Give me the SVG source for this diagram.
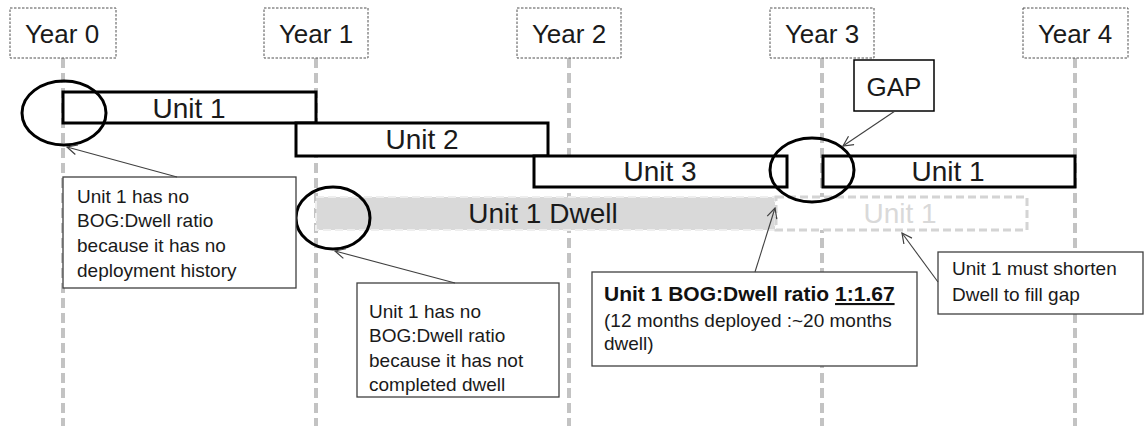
<svg xmlns="http://www.w3.org/2000/svg" width="1144" height="426" viewBox="0 0 1144 426">
<defs>
<marker id="arr" viewBox="0 0 12 12" refX="11" refY="6" markerWidth="12" markerHeight="12" markerUnits="userSpaceOnUse" orient="auto">
<path d="M1,1 L11,6 L1,11" fill="none" stroke="#404040" stroke-width="1.2"/>
</marker>
<style>
.grid{stroke:#c3c3c3;stroke-width:4;stroke-dasharray:10,5;fill:none}
.year{fill:#fff;stroke:#505050;stroke-width:1;stroke-dasharray:2.5,1.5}
.yt{font-family:"Liberation Sans",Arial,sans-serif;font-size:26px;fill:#1a1a1a;text-anchor:middle}
.bar{fill:#fff;stroke:#000;stroke-width:3}
.bt{font-family:"Liberation Sans",Arial,sans-serif;font-size:28px;fill:#1a1a1a;text-anchor:middle}
.ring{fill:none;stroke:#000;stroke-width:3}
.call{fill:#fff;stroke:#404040;stroke-width:1.3}
.ct{font-family:"Liberation Sans",Arial,sans-serif;font-size:19px;fill:#1a1a1a}
.cb{font-family:"Liberation Sans",Arial,sans-serif;font-size:21px;font-weight:bold;fill:#111}
.conn{stroke:#404040;stroke-width:1.1;fill:none;marker-end:url(#arr)}
</style>
</defs>
<rect width="1144" height="426" fill="#fff"/>
<g id="gridlines">
<line class="grid" x1="63" y1="58" x2="63" y2="426"/>
<line class="grid" x1="316" y1="58" x2="316" y2="426"/>
<line class="grid" x1="569" y1="58" x2="569" y2="426"/>
<line class="grid" x1="822" y1="58" x2="822" y2="426"/>
<line class="grid" x1="1075" y1="58" x2="1075" y2="426"/>
</g>
<g id="year0"><rect class="year" x="10" y="8" width="106" height="50"/><text class="yt" x="62" y="43">Year 0</text></g>
<g id="year1"><rect class="year" x="264" y="8" width="104" height="50"/><text class="yt" x="316" y="43">Year 1</text></g>
<g id="year2"><rect class="year" x="517" y="8" width="104" height="50"/><text class="yt" x="569" y="43">Year 2</text></g>
<g id="year3"><rect class="year" x="770" y="8" width="104" height="50"/><text class="yt" x="822" y="43">Year 3</text></g>
<g id="year4"><rect class="year" x="1023" y="8" width="105" height="50"/><text class="yt" x="1075" y="43">Year 4</text></g>
<g id="unit1a"><rect class="bar" x="63" y="92" width="253" height="31"/><text class="bt" x="189" y="118">Unit 1</text></g>
<g id="unit2"><rect class="bar" x="296" y="123" width="252" height="33"/><text class="bt" x="422" y="149">Unit 2</text></g>
<g id="unit3"><rect class="bar" x="534" y="156" width="253" height="31"/><text class="bt" x="660" y="181">Unit 3</text></g>
<g id="unit1b"><rect class="bar" x="823" y="156" width="252" height="31"/><text class="bt" x="948" y="181">Unit 1</text></g>
<g id="dwell"><rect x="316" y="197" width="459" height="33" fill="#d9d9d9" stroke="#eeeeee" stroke-width="2" stroke-dasharray="8,4"/><text class="bt" x="543" y="223">Unit 1 Dwell</text></g>
<g id="ghost"><rect x="776" y="197" width="251" height="33" fill="#fff" stroke="#d4d4d4" stroke-width="3" stroke-dasharray="8,4"/><text class="bt" x="900" y="223" style="fill:#d9d9d9">Unit 1</text></g>
<g id="ring1"><ellipse class="ring" cx="64" cy="113" rx="42" ry="32"/></g>
<g id="ring2"><ellipse class="ring" cx="333" cy="218" rx="37" ry="31"/></g>
<g id="ring3"><ellipse class="ring" cx="812" cy="170" rx="42" ry="32"/></g>
<g id="gap"><rect x="854" y="60" width="80" height="51" fill="#fff" stroke="#000" stroke-width="1.5"/><text class="yt" x="894" y="96">GAP</text></g>
<g id="note1"><rect class="call" x="63" y="177" width="233" height="111"/>
<text class="ct" x="77" y="203">Unit 1 has no</text>
<text class="ct" x="77" y="227">BOG:Dwell ratio</text>
<text class="ct" x="77" y="252">because it has no</text>
<text class="ct" x="77" y="277">deployment history</text></g>
<g id="note2"><rect class="call" x="357" y="283" width="202" height="114"/>
<text class="ct" x="369" y="318">Unit 1 has no</text>
<text class="ct" x="369" y="342">BOG:Dwell ratio</text>
<text class="ct" x="369" y="367">because it has not</text>
<text class="ct" x="369" y="391">completed dwell</text></g>
<g id="note3"><rect class="call" x="592" y="272" width="325" height="94"/>
<text class="cb" x="604" y="301">Unit 1 BOG:Dwell ratio <tspan text-decoration="underline">1:1.67</tspan></text>
<text class="ct" x="604" y="327">(12 months deployed :~20 months</text>
<text class="ct" x="604" y="350">dwell)</text></g>
<g id="note4"><rect class="call" x="938" y="252" width="205" height="62"/>
<text class="ct" x="952" y="275">Unit 1 must shorten</text>
<text class="ct" x="952" y="301">Dwell to fill gap</text></g>
<g id="connectors">
<line class="conn" x1="177" y1="177" x2="67" y2="147"/>
<line class="conn" x1="455" y1="283" x2="335" y2="251"/>
<line class="conn" x1="755" y1="272" x2="775" y2="208"/>
<line class="conn" x1="938" y1="282" x2="902" y2="233"/>
<line class="conn" x1="895" y1="111" x2="843" y2="146"/>
</g>
</svg>
